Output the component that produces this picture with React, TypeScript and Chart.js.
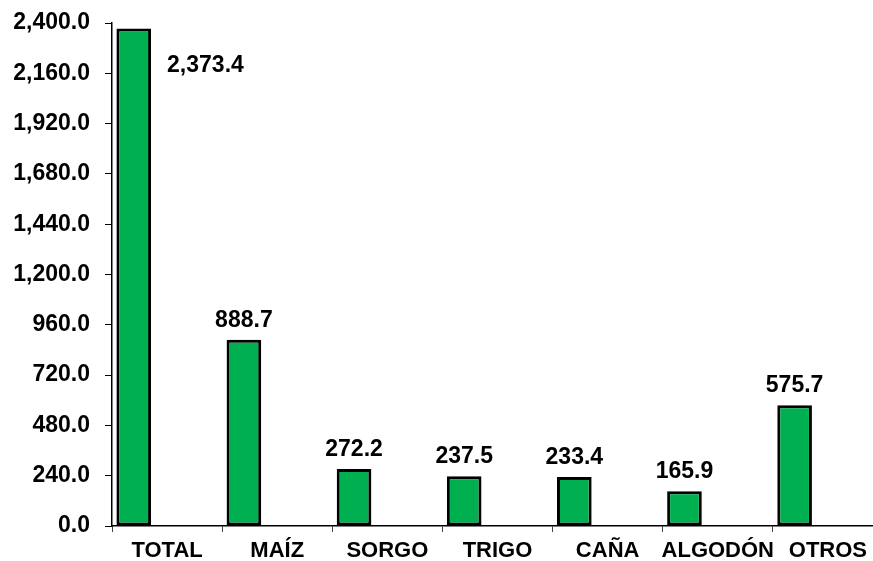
import React, { useEffect, useRef } from "react";
import { Chart, registerables } from "chart.js";
Chart.register(...registerables);

const categories = ["TOTAL", "MAÍZ", "SORGO", "TRIGO", "CAÑA", "ALGODÓN", "OTROS"];
const values = [2373.4, 888.7, 272.2, 237.5, 233.4, 165.9, 575.7];
const yMin = 0;
const yMax = 2400;
const yStep = 240;

const FONT = '"Liberation Sans", Arial, sans-serif';
const fmt = (v: number) =>
  v.toLocaleString("en-US", { minimumFractionDigits: 1, maximumFractionDigits: 1 });

const valueLabels = {
  id: "valueLabels",
  afterDatasetsDraw(chart: any) {
    const ctx = chart.ctx;
    const meta = chart.getDatasetMeta(0);
    ctx.save();
    ctx.font = `bold 23px ${FONT}`;
    ctx.fillStyle = "#000";
    ctx.textBaseline = "alphabetic";
    meta.data.forEach((bar: any, i: number) => {
      const { x, y, width } = bar.getProps(["x", "y", "width"], true);
      const text = fmt(values[i]);
      let tx = x;
      let ty = y - 13;
      ctx.textAlign = "center";
      if (ty - 18 < chart.chartArea.top) {
        ctx.textAlign = "left";
        tx = x + width / 2 + 16;
        ty = y + 43;
      }
      ctx.fillText(text, tx, ty);
    });
    ctx.restore();
  },
};

export default function App() {
  const ref = useRef<HTMLCanvasElement>(null);
  useEffect(() => {
    if (!ref.current) return;
    Chart.defaults.font.family = FONT;
    const chart = new Chart(ref.current, {
      type: "bar",
      data: {
        labels: categories,
        datasets: [
          {
            label: "valor",
            data: values,
            backgroundColor: "#00B050",
            borderColor: "#000",
            borderWidth: 3,
            borderSkipped: false,
            categoryPercentage: 1.21,
            barPercentage: 0.52,
          },
          {
            label: "vacío",
            data: [],
            backgroundColor: "#00B050",
            categoryPercentage: 1.21,
            barPercentage: 0.52,
          },
        ],
      },
      options: {
        responsive: false,
        animation: false,
        layout: { padding: { top: 23, right: 1, bottom: 0, left: 0 } },
        plugins: { legend: { display: false }, tooltip: { enabled: false } },
        scales: {
          x: {
            offset: true,
            grid: {
              offset: true,
              drawOnChartArea: false,
              drawTicks: true,
              tickLength: 6,
              color: "#444",
            },
            border: { display: true, color: "#000", width: 1.5 },
            ticks: {
              color: "#000",
              font: { size: 22, weight: "bold", family: FONT },
              padding: 6,
              maxRotation: 0,
              autoSkip: false,
            },
            afterFit(scale: any) {
              scale.height = 35;
              scale.paddingLeft = 0;
              scale.paddingRight = 0;
            },
          },
          y: {
            min: yMin,
            max: yMax,
            grid: {
              drawOnChartArea: false,
              drawTicks: true,
              tickLength: 7,
              color: "#000",
            },
            border: { display: true, color: "#000", width: 1.5 },
            ticks: {
              stepSize: yStep,
              color: "#000",
              font: { size: 23, weight: "bold", family: FONT },
              padding: 15,
              callback: (v: any) => fmt(Number(v)),
            },
            afterFit(scale: any) {
              scale.width = 112;
              scale.paddingTop = 0;
              scale.paddingBottom = 0;
            },
          },
        },
      },
      plugins: [valueLabels],
    });
    return () => chart.destroy();
  }, []);
  return (
    <div
      style={{
        position: "fixed",
        left: 0,
        top: 0,
        width: 873,
        height: 561,
        overflow: "hidden",
        background: "#fff",
      }}
    >
      <canvas ref={ref} width={884} height={561} style={{ display: "block" }} />
    </div>
  );
}
